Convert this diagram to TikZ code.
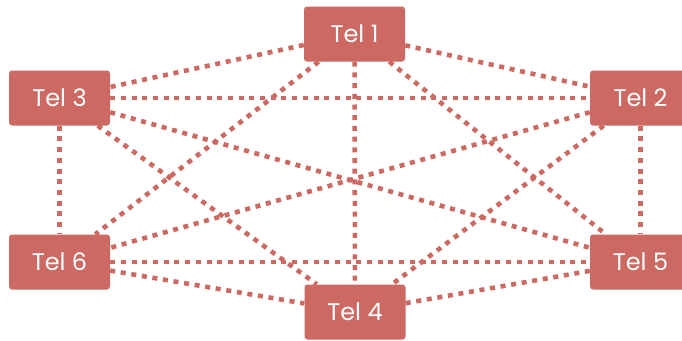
\documentclass[tikz,border=0pt]{standalone}
\usepackage{fontspec}
\setmainfont{Poppins}
\definecolor{telred}{RGB}{204,105,98}
\begin{document}
\begin{tikzpicture}[x=1pt,y=-1pt,
  telbox/.style={fill=telred, rounded corners=3pt, minimum width=101pt, minimum height=55pt, inner sep=0pt, text=white, font=\fontsize{24}{27}\selectfont},
  link/.style={draw=telred, line width=4.6pt, dash pattern=on 5pt off 5.7pt}]
\useasboundingbox (0,0) rectangle (682,340);
\node[telbox] (t1) at (354.5,34) {Tel 1};
\node[telbox] (t3) at (59.5,98) {Tel 3};
\node[telbox] (t2) at (640.5,98) {Tel 2};
\node[telbox] (t6) at (59.5,262) {Tel 6};
\node[telbox] (t5) at (640.5,262) {Tel 5};
\node[telbox] (t4) at (355,312) {Tel 4};
\foreach \a/\b in {t1/t3,t1/t2,t1/t4,t1/t6,t1/t5,t3/t2,t3/t6,t3/t4,t3/t5,t2/t5,t2/t6,t2/t4,t6/t5,t6/t4,t5/t4}
  \draw[link] (\a) -- (\b);
\end{tikzpicture}
\end{document}
